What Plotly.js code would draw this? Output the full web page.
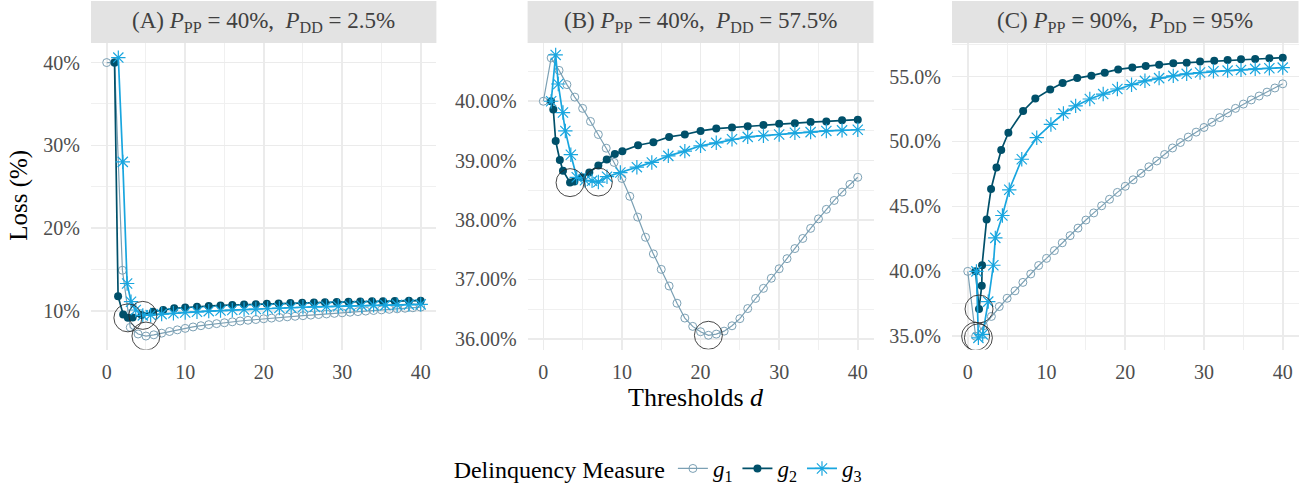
<!DOCTYPE html>
<html><head><meta charset="utf-8">
<script src="https://cdn.plot.ly/plotly-3.0.1.min.js"></script>
<style>html,body{margin:0;padding:0;background:#fff}#chart{width:1313px;height:490px}</style>
</head><body><div id="chart"></div>
<script>
// ---------- data ----------
const seriesNames = ['<i>g</i><sub>1</sub>', '<i>g</i><sub>2</sub>', '<i>g</i><sub>3</sub>'];
const panelTitles = [
  '(A) <i>P</i><sub>PP</sub> = 40%,&nbsp; <i>P</i><sub>DD</sub> = 2.5%',
  '(B) <i>P</i><sub>PP</sub> = 40%,&nbsp; <i>P</i><sub>DD</sub> = 57.5%',
  '(C) <i>P</i><sub>PP</sub> = 90%,&nbsp; <i>P</i><sub>DD</sub> = 95%'
];
const xTicks = [0, 10, 20, 30, 40];
const yTicksA = [10, 20, 30, 40];
const yTicksB = [36, 37, 38, 39, 40];
const yTicksC = [35, 40, 45, 50, 55];

// thresholds d for g1 (integer grid)
const dInt = [0,1,2,3,4,5,6,7,8,9,10,11,12,13,14,15,16,17,18,19,20,21,22,23,24,25,26,27,28,29,30,31,32,33,34,35,36,37,38,39,40];

// Panel A
const A_g1 = [40.0,40.0,14.9,8.0,7.2,6.95,7.1,7.3,7.5,7.7,7.88,8.05,8.2,8.33,8.45,8.56,8.67,8.77,8.86,8.95,9.04,9.12,9.2,9.27,9.34,9.41,9.48,9.55,9.62,9.69,9.76,9.83,9.9,9.97,10.04,10.11,10.18,10.24,10.31,10.37,10.44];
const A_g2_x = [1.0,1.45,2.1,2.7,3.3,4.45,5.9,7.2,8.6,10.0,11.5,13.0,14.5,16.0,17.5,19.0,20.4,21.9,23.4,24.9,26.4,27.8,29.3,30.8,32.3,33.8,35.2,36.7,38.5,40.0];
const A_g2_y = [40.0,11.75,9.55,9.15,9.2,9.5,9.9,10.1,10.3,10.4,10.5,10.58,10.65,10.7,10.75,10.8,10.85,10.89,10.93,10.96,11.0,11.03,11.06,11.09,11.12,11.15,11.17,11.19,11.21,11.23];
const A_g3_x = [1.48,2.05,2.6,3.1,3.7,4.6,5.6,7.0,8.5,10.0,11.5,13.0,14.5,16.0,17.5,19.0,20.5,22.0,23.5,25.0,26.5,28.0,29.5,31.0,32.5,34.0,35.5,37.0,38.5,40.0];
const A_g3_y = [40.6,28.0,13.3,11.1,10.1,9.45,9.5,9.6,9.7,9.8,9.88,9.96,10.03,10.1,10.16,10.22,10.28,10.33,10.38,10.43,10.47,10.51,10.55,10.59,10.62,10.66,10.69,10.72,10.75,10.78];

// Panel B
const B_g1 = [40.00,40.73,40.52,40.28,40.07,39.88,39.66,39.44,39.21,38.97,38.70,38.40,38.05,37.71,37.43,37.17,36.89,36.60,36.35,36.21,36.12,36.06,36.08,36.13,36.22,36.34,36.51,36.68,36.85,37.02,37.18,37.35,37.52,37.69,37.86,38.02,38.18,38.33,38.47,38.60,38.72];
const B_g2_x = [0.98,1.27,1.57,2.1,2.5,3.4,3.95,4.9,5.85,7.0,8.07,9.1,10.05,12.05,14.0,16.0,18.0,20.0,22.0,24.0,26.0,28.0,30.0,32.0,34.0,36.0,38.0,40.0];
const B_g2_y = [40.0,39.86,39.33,39.01,38.83,38.63,38.65,38.72,38.80,38.92,39.02,39.11,39.16,39.26,39.31,39.40,39.44,39.50,39.54,39.56,39.58,39.60,39.62,39.63,39.65,39.66,39.68,39.69];
const B_g3_x = [1.0,1.57,1.9,2.5,2.8,3.5,4.25,5.3,6.2,7.0,8.1,9.8,11.9,13.8,15.9,18.0,20.0,22.0,24.0,26.0,28.0,30.0,32.0,34.0,36.0,38.0,40.0];
const B_g3_y = [40.0,40.78,40.29,39.81,39.50,39.10,38.72,38.67,38.66,38.64,38.73,38.80,38.89,38.97,39.08,39.16,39.25,39.30,39.36,39.40,39.42,39.44,39.47,39.48,39.50,39.51,39.52];

// Panel C
const C_g1 = [40.0,35.0,35.8,36.53,37.29,37.93,38.5,39.15,39.8,40.45,41.0,41.6,42.2,42.75,43.33,43.95,44.5,45.05,45.55,46.08,46.55,47.05,47.55,48.05,48.5,49.0,49.5,49.92,50.34,50.72,51.08,51.48,51.84,52.2,52.55,52.88,53.2,53.5,53.8,54.12,54.44];
const C_g2_x = [1.0,1.43,1.78,1.82,2.4,2.96,3.65,4.25,5.16,7.03,8.58,10.47,12.05,13.9,15.7,17.4,19.1,20.9,22.6,24.3,26.1,27.8,29.5,31.3,33.0,34.7,36.5,38.3,40.0];
const C_g2_y = [40.0,37.1,38.9,40.47,44.0,46.34,48.0,49.35,50.67,52.35,53.3,54.0,54.5,54.88,55.07,55.3,55.55,55.69,55.82,55.9,56.02,56.07,56.15,56.22,56.28,56.33,56.36,56.41,56.45];
const C_g3_x = [1.1,1.35,1.9,2.6,3.25,3.5,4.4,5.27,6.86,8.76,10.56,12.15,13.7,15.5,17.2,19.0,20.8,22.5,24.3,26.1,27.8,29.5,31.2,33.0,34.7,36.5,38.3,40.0];
const C_g3_y = [40.0,34.88,35.15,37.67,40.47,42.58,44.3,46.28,48.63,50.29,51.31,52.15,52.74,53.27,53.65,54.04,54.37,54.67,54.88,55.05,55.21,55.31,55.41,55.46,55.51,55.59,55.64,55.69];

// ---------- styling ----------
const W = 1313, H = 490;
const FONT = 'Liberation Serif, Times New Roman, serif';
const colors = ['#7BA0B4', '#00506A', '#19A6DF'];
const panels = [
  {g: [[dInt, A_g1], [A_g2_x, A_g2_y], [A_g3_x, A_g3_y]], px: [91, 436.4], yr: [5.32, 42.36], yt: yTicksA, fmt: v => v + '%'},
  {g: [[dInt, B_g1], [B_g2_x, B_g2_y], [B_g3_x, B_g3_y]], px: [527.6, 873.5], yr: [35.82, 40.98], yt: yTicksB, fmt: v => v.toFixed(2) + '%'},
  {g: [[dInt, C_g1], [C_g2_x, C_g2_y], [C_g3_x, C_g3_y]], px: [952, 1298.5], yr: [33.98, 57.58], yt: yTicksC, fmt: v => v.toFixed(1) + '%'}
];
const plotTop = 43.3, plotBot = 351.7;
const yDom = [1 - plotBot / H, 1 - plotTop / H];
const minorStep = [5, 0.5, 2.5];

const traces = [];
const layout = {
  width: W, height: H,
  margin: {l: 0, r: 0, t: 0, b: 0},
  paper_bgcolor: '#fff', plot_bgcolor: '#fff',
  font: {family: FONT, color: '#4D4D4D', size: 20},
  showlegend: true,
  legend: {
    orientation: 'h', x: 0.502, xanchor: 'center', y: 1 - 471.7 / H, yanchor: 'middle',
    font: {family: FONT, size: 23, color: '#000'},
    title: {text: 'Delinquency Measure', side: 'left', font: {family: FONT, size: 24, color: '#000'}},
    itemwidth: 30, bgcolor: 'rgba(0,0,0,0)'
  },
  shapes: [], annotations: []
};

const markerDefs = [
  {symbol: 'circle-open', size: 8, color: colors[0], line: {width: 1, color: colors[0]}},
  {symbol: 'circle', size: 8, color: colors[1]},
  {symbol: 'asterisk-open', size: 12, color: colors[2], line: {width: 1.2, color: colors[2]}}
];
const lineW = [1.2, 1.7, 1.7];

panels.forEach((p, i) => {
  const n = i === 0 ? '' : String(i + 1);
  const xa = 'x' + n, ya = 'y' + n;
  p.g.forEach((s, k) => {
    traces.push({
      type: 'scatter', mode: 'lines+markers', x: s[0], y: s[1], xaxis: xa, yaxis: ya,
      name: seriesNames[k], legendgroup: 'g' + k, showlegend: i === 0,
      line: {color: colors[k], width: lineW[k]}, marker: markerDefs[k], hoverinfo: 'skip'
    });
  });
  // circles around each series minimum
  const mx = [], my = [];
  p.g.forEach(s => {
    let bi = 0;
    s[1].forEach((v, j) => { if (v < s[1][bi]) bi = j; });
    mx.push(s[0][bi]); my.push(s[1][bi]);
  });
  traces.push({
    type: 'scatter', mode: 'markers', x: mx, y: my, xaxis: xa, yaxis: ya, showlegend: false,
    marker: {symbol: 'circle-open', size: 28, color: 'rgba(40,40,40,0.85)', line: {width: 1}}, hoverinfo: 'skip'
  });

  const xd = [p.px[0] / W, p.px[1] / W];
  layout['xaxis' + n] = {
    domain: xd, anchor: ya, range: [-2, 42], tickvals: xTicks, ticktext: xTicks.map(String),
    showgrid: true, gridcolor: '#EBEBEB', gridwidth: 1.6, zeroline: false, showline: false, ticks: '',
    ticklabelstandoff: 8, tickfont: {family: FONT, size: 20, color: '#4D4D4D'},
    minor: {dtick: 5, tick0: 0, showgrid: true, gridcolor: '#F0F0F0', gridwidth: 1}
  };
  layout['yaxis' + n] = {
    domain: yDom, anchor: xa, range: p.yr, tickvals: p.yt, ticktext: p.yt.map(p.fmt),
    showgrid: true, gridcolor: '#EBEBEB', gridwidth: 1.6, zeroline: false, showline: false, ticks: '',
    ticklabelstandoff: 10, tickfont: {family: FONT, size: 20, color: '#4D4D4D'},
    minor: {dtick: minorStep[i], tick0: 0, showgrid: true, gridcolor: '#F0F0F0', gridwidth: 1}
  };
  // strip
  layout.shapes.push({type: 'rect', xref: 'paper', yref: 'paper', x0: xd[0], x1: xd[1],
    y0: 1 - plotTop / H, y1: 1 - 1 / H, fillcolor: '#E3E3E3', line: {width: 0}, layer: 'below'});
  layout.annotations.push({xref: 'paper', yref: 'paper', x: (xd[0] + xd[1]) / 2, y: 1 - 22 / H,
    xanchor: 'center', yanchor: 'middle', showarrow: false, text: panelTitles[i],
    font: {family: FONT, size: 23, color: '#404040'}});
});

layout.annotations.push({xref: 'paper', yref: 'paper', x: 19 / W, y: 1 - 197 / H, textangle: -90,
  xanchor: 'center', yanchor: 'middle', showarrow: false, text: 'Loss (%)',
  font: {family: FONT, size: 25, color: '#000'}});
layout.annotations.push({xref: 'paper', yref: 'paper', x: 696 / W, y: 1 - 400 / H,
  xanchor: 'center', yanchor: 'middle', showarrow: false, text: 'Thresholds <i>d</i>',
  font: {family: FONT, size: 26, color: '#000'}});

Plotly.newPlot('chart', traces, layout, {displayModeBar: false, staticPlot: true});
</script></body></html>
